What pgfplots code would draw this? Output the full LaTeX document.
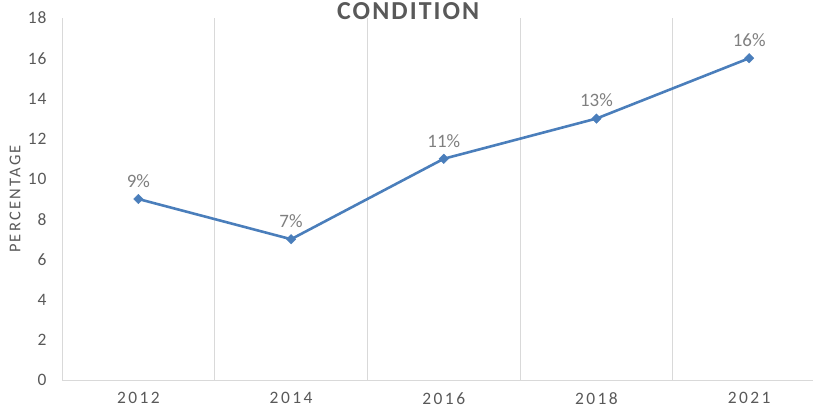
\documentclass[border=0pt]{standalone}
\usepackage{fontspec}
\setmainfont{Carlito}
\newfontfamily\spacedA[LetterSpace=14]{Carlito}
\newfontfamily\spacedB[LetterSpace=6]{Carlito}
\newfontfamily\spacedT[LetterSpace=8]{Carlito}
\usepackage{pgfplots}
\pgfplotsset{compat=1.18}
\definecolor{lineblue}{HTML}{4A7EBB}
\definecolor{gridgray}{HTML}{D9D9D9}
\definecolor{ticktext}{HTML}{595959}
\definecolor{labeltext}{HTML}{7F7F7F}
\begin{document}
\begin{tikzpicture}
\useasboundingbox (0,0) rectangle (814bp,414bp);
\begin{axis}[
  at={(62bp,34bp)}, anchor=south west,
  scale only axis,
  width=751bp, height=362bp,
  xmin=-0.5, xmax=4.418,
  ymin=0, ymax=18,
  ytick={0,2,...,18},
  xtick={0,1,2,3,4},
  xticklabels={2012,2014,2016,2018,2021},
  minor xtick={0.5,1.5,2.5,3.5},
  xminorgrids=true,
  minor x grid style={gridgray, line width=0.8pt},
  major tick length=0pt, minor tick length=0pt,
  axis x line*=bottom, axis y line*=left,
  axis line style={gridgray, line width=0.8pt, -},
  /pgf/number format/assume math mode=true,
  x tick label style={font=\spacedA\fontsize{17.5}{17.5}\selectfont, text=ticktext, yshift=-9bp},
  y tick label style={font=\spacedB\fontsize{17.5}{17.5}\selectfont, text=ticktext, xshift=-12bp},
  every axis title shift=0pt,
  title={CONDITION},
  title style={at={(axis description cs:0.461,1)}, anchor=center, yshift=6.5bp,
    font=\spacedT\bfseries\fontsize{26}{26}\selectfont, text=ticktext},
  ylabel={PERCENTAGE},
  ylabel style={at={(axis description cs:-0.0626,0.5)}, anchor=center, rotate=0,
    font=\spacedA\fontsize{16.5}{16.5}\selectfont, text=ticktext},
  nodes near coords={\pgfmathprintnumber{\pgfplotspointmeta}\%},
  every node near coord/.append style={font=\fontsize{19}{19}\selectfont, text=labeltext, anchor=south, yshift=8bp},
  clip=false,
]
\addplot[color=lineblue, line width=2.6pt, mark=square*, mark size=3.4bp, mark options={fill=lineblue, line width=0.3pt, rotate=45}]
  coordinates {(0,9) (1,7) (2,11) (3,13) (4,16)};
\end{axis}
\end{tikzpicture}
\end{document}
